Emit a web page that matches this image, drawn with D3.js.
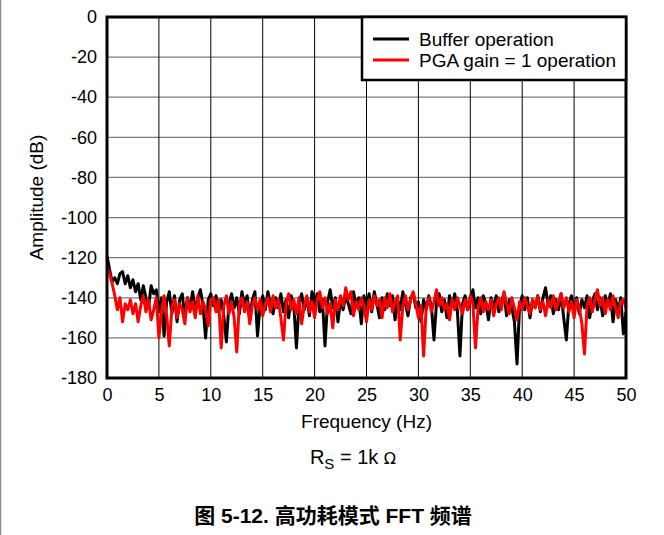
<!DOCTYPE html>
<html>
<head>
<meta charset="utf-8">
<script src="https://cdn.jsdelivr.net/npm/d3@7"></script>
<style>
  body { margin: 0; background: #fff; }
  text { font-family: "Liberation Sans", Arial, sans-serif; fill: #000; }
</style>
</head>
<body>
<div id="chart"></div>
<script>
// frequency grid step (Hz) for both traces
const freqStep = 0.25

// Buffer operation, dB, one value per 0.25 Hz from 0 to 50 Hz
const bufferDb = [
  -119, -126, -132, -130, -133, -128, -127, -133, -129, -135, -131, -137, -133, -141, -134, -140,
  -145, -134, -138, -136, -147, -140, -159, -142, -137, -148, -139, -152, -141, -138, -150, -140,
  -145, -137, -146, -140, -136, -144, -160, -141, -138,
  -144, -139, -147, -141, -149, -162, -143, -138, -145, -140, -148, -137, -143, -139, -150, -141,
  -137, -159, -144, -139, -146, -137, -143, -148, -140, -145, -138, -147, -141, -150, -139, -144,
  -165, -143, -138, -146, -140, -149, -137, -143, -138, -147, -141, -164, -142, -136, -145, -140,
  -152, -141, -146, -139, -143, -148, -137, -144, -140, -153, -139, -145, -138, -147, -137, -143,
  -150, -140, -146, -138, -144, -139, -151, -141, -146, -137, -143, -149, -140, -138, -145, -142,
  -152, -141, -146, -139, -144, -161, -142, -138, -147, -141, -150, -139, -144, -138, -146, -169,
  -143, -139, -146, -141, -136, -145, -140, -148, -139, -143, -151, -140, -145, -139, -147, -142,
  -138, -149, -141, -145, -152, -173, -144, -139, -146, -140, -150, -141, -145, -139, -147, -140,
  -135, -144, -139, -148, -141, -146, -138, -150, -161, -143, -139, -146, -140, -148, -141, -145,
  -139, -150, -142, -138, -146, -140, -149, -139, -144, -138, -152, -141, -146, -140, -158, -147
]

// PGA gain = 1 operation, dB, same frequency grid
const pgaDb = [
  -125, -128, -133, -139, -146, -140, -152, -143, -146, -141, -148, -143, -152, -144, -139, -147,
  -141, -151, -146, -140, -160, -147, -139, -149, -164, -145, -141, -150, -143, -146, -153, -140,
  -147, -142, -150, -139, -148, -142, -146, -154, -141,
  -140, -147, -141, -165, -144, -139, -148, -142, -150, -167, -143, -140, -147, -142, -153, -144,
  -140, -146, -141, -149, -143, -140, -147, -139, -145, -141, -150, -161, -143, -138, -146, -141,
  -148, -140, -153, -144, -139, -147, -142, -150, -141, -137, -145, -140, -148, -143, -155, -141,
  -146, -139, -144, -135, -141, -137, -149, -142, -146, -140, -144, -152, -141, -146, -139, -144,
  -141, -150, -140, -145, -138, -147, -142, -139, -161, -144, -139, -146, -141, -137, -143, -150,
  -144, -169, -145, -140, -147, -142, -136, -144, -140, -146, -143, -151, -141, -146, -140, -144,
  -148, -141, -146, -139, -143, -165, -145, -140, -147, -142, -146, -141, -149, -143, -140, -146,
  -137, -143, -148, -140, -145, -151, -142, -146, -140, -144, -148, -141, -145, -139, -146, -142,
  -149, -141, -145, -139, -146, -142, -138, -145, -140, -147, -142, -150, -141, -145, -153, -168,
  -144, -140, -147, -141, -136, -144, -140, -148, -141, -146, -139, -145, -150, -142, -141, -145
]

const xTicks = [0, 5, 10, 15, 20, 25, 30, 35, 40, 45, 50]
const yTicks = [0, -20, -40, -60, -80, -100, -120, -140, -160, -180]

const series = [
  { name: 'Buffer operation', color: '#000000', values: bufferDb },
  { name: 'PGA gain = 1 operation', color: '#ff0000', values: pgaDb }
]

const width = 664
const height = 535
const margin = { left: 107, top: 17, right: 38, bottom: 157 }
const innerW = width - margin.left - margin.right
const innerH = height - margin.top - margin.bottom

const svg = d3.select('#chart')
  .append('svg')
  .attr('width', width)
  .attr('height', height)

// page edge line on the left
svg.append('line')
  .attr('x1', 0.5).attr('x2', 0.5)
  .attr('y1', 0).attr('y2', height)
  .attr('stroke', '#8c8c8c')
  .attr('stroke-width', 1.5)

const x = d3.scaleLinear().domain([0, 50]).range([margin.left, margin.left + innerW])
const y = d3.scaleLinear().domain([-180, 0]).range([margin.top + innerH, margin.top])

// grid: horizontal gray, vertical black
svg.append('g')
  .selectAll('line')
  .data(yTicks)
  .join('line')
  .attr('x1', x(0)).attr('x2', x(50))
  .attr('y1', d => y(d)).attr('y2', d => y(d))
  .attr('stroke', '#7a7a7a')
  .attr('stroke-width', 1.2)

svg.append('g')
  .selectAll('line')
  .data(xTicks)
  .join('line')
  .attr('x1', d => x(d)).attr('x2', d => x(d))
  .attr('y1', y(0)).attr('y2', y(-180))
  .attr('stroke', '#000')
  .attr('stroke-width', 1)

// axis labels via d3 axes, no tick lines, plain hyphen minus
const yAxis = svg.append('g')
  .attr('transform', `translate(${margin.left - 4},0)`)
  .call(d3.axisLeft(y).tickValues(yTicks).tickSize(0).tickPadding(6).tickFormat(d => String(d)))
yAxis.select('.domain').remove()
yAxis.selectAll('text')
  .style('font-family', '"Liberation Sans", Arial, sans-serif')
  .style('font-size', '18px')
  .attr('fill', '#000')

const xAxis = svg.append('g')
  .attr('transform', `translate(0,${margin.top + innerH + 4})`)
  .call(d3.axisBottom(x).tickValues(xTicks).tickSize(0).tickPadding(6).tickFormat(d => String(d)))
xAxis.select('.domain').remove()
xAxis.selectAll('text')
  .style('font-family', '"Liberation Sans", Arial, sans-serif')
  .style('font-size', '18px')
  .attr('fill', '#000')

// data traces
const line = d3.line()
  .x((d, i) => x(i * freqStep))
  .y(d => y(d))

svg.append('defs').append('clipPath').attr('id', 'clip')
  .append('rect')
  .attr('x', x(0)).attr('y', y(0))
  .attr('width', innerW).attr('height', innerH)

svg.append('g')
  .attr('clip-path', 'url(#clip)')
  .selectAll('path')
  .data(series)
  .join('path')
  .attr('d', d => line(d.values))
  .attr('fill', 'none')
  .attr('stroke', d => d.color)
  .attr('stroke-width', 3)
  .attr('stroke-linejoin', 'round')

// frame
svg.append('rect')
  .attr('x', x(0)).attr('y', y(0))
  .attr('width', innerW).attr('height', innerH)
  .attr('fill', 'none')
  .attr('stroke', '#000')
  .attr('stroke-width', 3)

// legend
const lg = svg.append('g')
lg.append('rect')
  .attr('x', 362).attr('y', y(0))
  .attr('width', x(50) - 362).attr('height', 63)
  .attr('fill', '#fff')
  .attr('stroke', '#000')
  .attr('stroke-width', 2.5)

const lgItem = lg.selectAll('g.item')
  .data(series)
  .join('g')
  .attr('class', 'item')
  .attr('transform', (d, i) => `translate(373,${39 + i * 21})`)
lgItem.append('line')
  .attr('x1', 0).attr('x2', 36)
  .attr('stroke', d => d.color)
  .attr('stroke-width', 3)
lgItem.append('text')
  .attr('x', 46)
  .attr('dy', '0.35em')
  .style('font-size', '19px')
  .text(d => d.name)

// axis titles
svg.append('text')
  .attr('x', (x(0) + x(50)) / 2)
  .attr('y', 428)
  .attr('text-anchor', 'middle')
  .style('font-size', '19px')
  .text('Frequency (Hz)')

svg.append('text')
  .attr('transform', `translate(43,${(y(0) + y(-180)) / 2}) rotate(-90)`)
  .attr('text-anchor', 'middle')
  .style('font-size', '19px')
  .text('Amplitude (dB)')

// condition note
const note = svg.append('text')
  .attr('x', 353)
  .attr('y', 464)
  .attr('text-anchor', 'middle')
  .style('font-size', '20px')
note.append('tspan').text('R')
note.append('tspan').attr('dy', 5).style('font-size', '15px').text('S')
note.append('tspan').attr('dy', -5).text(' = 1k ')
note.append('tspan').style('font-size', '16px').style('font-family', '"DejaVu Sans", sans-serif').text('Ω')

// caption
svg.append('text')
  .attr('x', 333)
  .attr('y', 523)
  .attr('text-anchor', 'middle')
  .style('font-size', '21px')
  .style('font-weight', 'bold')
  .style('font-family', '"Liberation Sans", "Noto Sans CJK SC", sans-serif')
  .text('图 5-12. 高功耗模式 FFT 频谱')
</script>
</body>
</html>
